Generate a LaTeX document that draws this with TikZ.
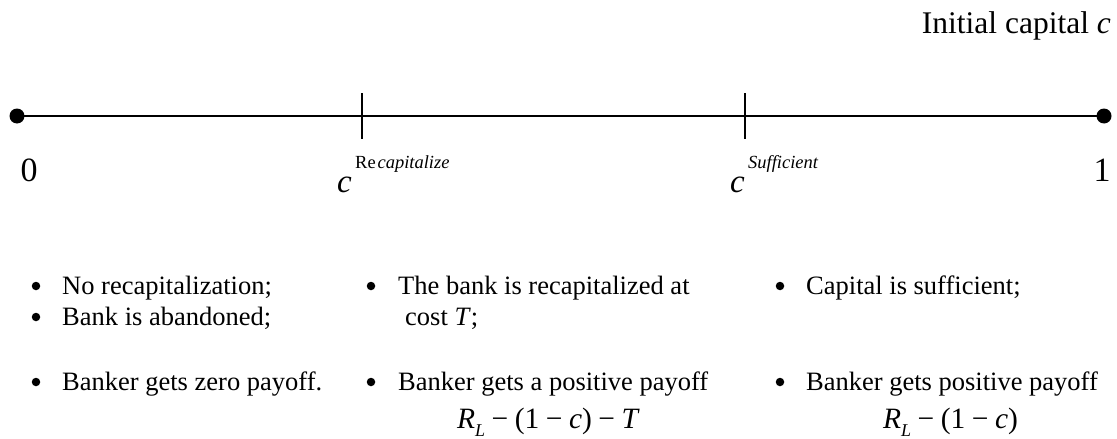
\documentclass[tikz,border=0pt]{standalone}
\usepackage{fontspec}
\setmainfont{Liberation Serif}
\newcommand{\msp}{\hspace{0.22em}}
\newcommand{\subL}{\raisebox{-0.3em}{\fontsize{18}{19}\selectfont\textit{L}}}
\begin{document}
\begin{tikzpicture}[x=1pt,y=-1pt,
  lbl/.style={font=\fontsize{34}{36}\selectfont, inner sep=0pt, anchor=base},
  bigc/.style={font=\fontsize{33}{36}\selectfont\itshape, inner sep=0pt, anchor=base west},
  suplbl/.style={font=\fontsize{18.5}{20}\selectfont, inner sep=0pt, anchor=base west},
  txt/.style={font=\fontsize{26.5}{31}\selectfont, inner sep=0pt, anchor=base west},
  bul/.style={circle, fill=black, draw=none, inner sep=0pt, minimum size=8.5pt},
  formula/.style={font=\fontsize{29.5}{32}\selectfont, inner sep=0pt, anchor=base west},
  title/.style={font=\fontsize{31.5}{34}\selectfont, inner sep=0pt, anchor=base east},
  endpt/.style={circle, fill=black, draw=none, inner sep=0pt, minimum size=15pt},
  axisline/.style={line width=1.6pt},
  tickline/.style={line width=2pt}]
\useasboundingbox (0,0) rectangle (1117,439);

% title
\node[title] (title) at (1111,33) {Initial capital \textit{c}};

% axis
\node[endpt] (d0) at (17,116) {};
\node[endpt] (d1) at (1104,116) {};
\draw[axisline] (d0.center) -- (d1.center);

\coordinate (t1top) at (362,93);
\coordinate (t1bot) at (362,139);
\coordinate (t2top) at (745,93);
\coordinate (t2bot) at (745,139);
\draw[tickline] (t1top) -- (t1bot);
\draw[tickline] (t2top) -- (t2bot);

% axis labels
\node[lbl] (l0) at (29,181) {0};
\node[lbl] (l1) at (1102,181) {1};
\node[bigc] (crec) at (337,192) {c};
\node[suplbl] (srec) at (355,168) {Re\hspace{0.1em}\textit{capitalize}};
\node[bigc] (csuf) at (730,192) {c};
\node[suplbl] (ssuf) at (748,168) {\textit{Sufficient}};

% column 1
\node[bul] (b11) at (36,286) {};
\node[txt] (c11) at (62,294) {No recapitalization;};
\node[bul] (b12) at (36,317) {};
\node[txt] (c12) at (62,325) {Bank is abandoned;};
\node[bul] (b13) at (36,382) {};
\node[txt] (c13) at (62,390) {Banker gets zero payoff.};

% column 2
\node[bul] (b21) at (371,286) {};
\node[txt] (c21) at (398,294) {The bank is recapitalized at};
\node[txt] (c22) at (405,325) {cost \textit{T};};
\node[bul] (b23) at (371,382) {};
\node[txt] (c23) at (398,390) {Banker gets a positive payoff};
\node[formula] (f2) at (457,428) {\textit{R}\subL\msp−\msp(1\msp−\msp\textit{c})\msp−\msp\textit{T}};

% column 3
\node[bul] (b31) at (780,286) {};
\node[txt] (c31) at (806,294) {Capital is sufficient;};
\node[bul] (b33) at (780,382) {};
\node[txt] (c33) at (806,390) {Banker gets positive payoff};
\node[formula] (f3) at (883,428) {\textit{R}\subL\msp−\msp(1\msp−\msp\textit{c})};
\end{tikzpicture}
\end{document}
